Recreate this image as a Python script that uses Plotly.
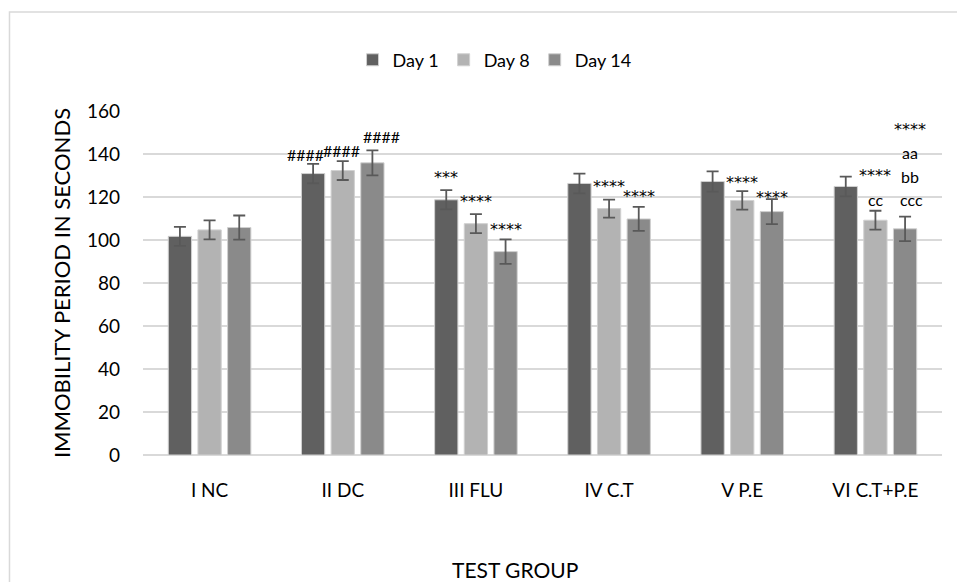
import plotly.graph_objects as go

# ---- data ----
groups = ["I NC", "II DC", "III FLU", "IV C.T", "V P.E", "VI C.T+P.E"]
series_names = ["Day 1", "Day 8", "Day 14"]
day1 = [101.7, 130.9, 118.7, 126.3, 127.2, 124.9]
day8 = [104.7, 132.3, 107.6, 114.6, 118.4, 109.2]
day14 = [105.8, 135.9, 94.6, 109.8, 113.2, 105.2]
err1 = [4.4, 4.5, 4.5, 4.6, 4.7, 4.6]
err8 = [4.4, 4.4, 4.4, 4.2, 4.3, 4.4]
err14 = [5.6, 5.8, 5.7, 5.6, 5.8, 5.7]

# significance labels: (group index, series index, text)
sig_labels = [
    (1, 0, "####"), (1, 1, "####"), (1, 2, "####"),
    (2, 0, "***"), (2, 1, "****"), (2, 2, "****"),
    (3, 1, "****"), (3, 2, "****"),
    (4, 1, "****"), (4, 2, "****"),
    (5, 1, "****"), (5, 1, "cc"),
    (5, 2, "****"), (5, 2, "aa"), (5, 2, "bb"), (5, 2, "ccc"),
]
# placement of each label relative to its error-bar top (pixels)
sig_shift = [
    (-8, 9), (-1, 11), (9, 14),
    (0, 16), (0, 16), (0, 13),
    (0, 16), (0, 13),
    (0, 12), (0, 5),
    (0, 38), (0, 11),
    (5, 90), (5, 64), (5, 40), (6, 17),
]

values = [day1, day8, day14]
errors = [err1, err8, err14]
colors = ["#606060", "#b3b3b3", "#8a8a8a"]
FONT = "Lato"
STAR_FONT = "DejaVu Sans"

fig = go.Figure()
for name, vals, errs, col in zip(series_names, values, errors, colors):
    fig.add_trace(go.Bar(
        name=name, x=groups, y=vals,
        marker=dict(color=col, line=dict(color="#d0d0d0", width=1)),
        error_y=dict(type="data", array=errs, visible=True,
                     color="#595959", thickness=1.8, width=6),
    ))

offset_unit = 0.223  # series offset in category units
annotations = []
for (gi, si, txt), (dx, dy) in zip(sig_labels, sig_shift):
    top = values[si][gi] + errors[si][gi]
    is_star = txt.startswith("*")
    annotations.append(dict(
        x=gi + (si - 1) * offset_unit, y=top, xref="x", yref="y",
        text=txt, showarrow=False, xanchor="center", yanchor="middle",
        xshift=dx, yshift=dy - (3 if is_star else 0),
        font=dict(family=STAR_FONT if is_star else FONT,
                  size=16, color="#000000"),
    ))

# x-axis title (centred like the source chart)
annotations.append(dict(
    text="TEST GROUP", xref="paper", yref="paper", x=0.4656, y=-0.334,
    xanchor="center", yanchor="middle", showarrow=False,
    font=dict(family=FONT, size=21, color="#000000"),
))

fig.update_layout(
    width=957, height=582,
    margin=dict(l=143, r=15, t=111, b=127),
    paper_bgcolor="white", plot_bgcolor="white",
    barmode="group", bargap=0.332, bargroupgap=0.215,
    font=dict(family=FONT, size=18, color="#000000"),
    legend=dict(orientation="h", x=0.44, xanchor="center", y=1.148,
                yanchor="middle", font=dict(family=FONT, size=18),
                traceorder="normal"),
    annotations=annotations,
    shapes=[dict(type="rect", xref="paper", yref="paper",
                 x0=-0.1671, x1=1.03, y0=-0.4, y1=1.2878,
                 line=dict(color="#d9d9d9", width=1.5), layer="below")],
)
fig.update_xaxes(
    showgrid=False, showline=False, ticks="", ticklabelstandoff=22,
    tickfont=dict(family=FONT, size=19),
)
fig.update_yaxes(
    title=dict(text="IMMOBILITY PERIOD IN SECONDS", font=dict(family=FONT, size=22), standoff=10),
    range=[0, 160], dtick=20, showgrid=True, gridcolor="#d9d9d9", gridwidth=1.5,
    zeroline=True, zerolinecolor="#d9d9d9", zerolinewidth=1.5,
    ticks="", ticklabelstandoff=22, tickfont=dict(family=FONT, size=19),
)

fig.write_html("out.html")
